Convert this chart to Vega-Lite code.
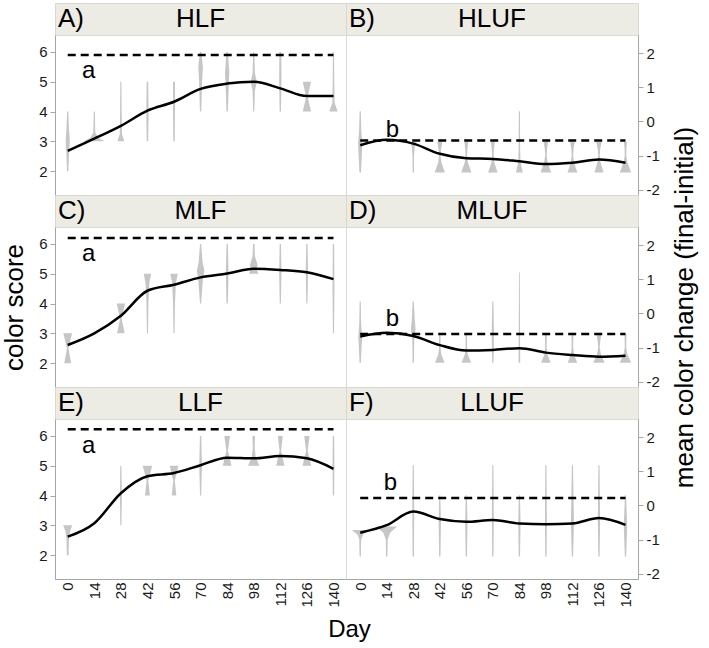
{
"$schema": "https://vega.github.io/schema/vega-lite/v6.json",
"background": "white",
"padding": {"left": 1, "top": 2, "right": 2, "bottom": 2},
"title": {"text": "Day", "orient": "bottom", "anchor": "middle", "fontSize": 24, "fontWeight": "normal", "font": "Liberation Sans", "color": "black", "offset": 10},
"datasets": {
"heads": [
{"p":"A","tag":"A)","name":"HLF"},{"p":"B","tag":"B)","name":"HLUF"},{"p":"C","tag":"C)","name":"MLF"},{"p":"D","tag":"D)","name":"MLUF"},{"p":"E","tag":"E)","name":"LLF"},{"p":"F","tag":"F)","name":"LLUF"}
],
"ref": [
{"p":"A","y":5.9,"from":0,"to":140,"letter":"a","lday":11,"ly":5.35},
{"p":"B","y":-0.56,"from":0,"to":140,"letter":"b","lday":17,"ly":-0.25},
{"p":"C","y":6.2,"from":0,"to":140,"letter":"a","lday":11,"ly":5.67},
{"p":"D","y":-0.6,"from":0,"to":140,"letter":"b","lday":17,"ly":-0.15},
{"p":"E","y":6.23,"from":0,"to":140,"letter":"a","lday":11,"ly":5.66},
{"p":"F","y":0.22,"from":0,"to":140,"letter":"b","lday":16,"ly":0.67}
],
"trend": [
{"p":"A","d":0,"v":2.68},{"p":"A","d":14,"v":3.09},{"p":"A","d":28,"v":3.52},{"p":"A","d":42,"v":4.03},{"p":"A","d":56,"v":4.33},{"p":"A","d":70,"v":4.76},{"p":"A","d":84,"v":4.94},{"p":"A","d":98,"v":5.0},{"p":"A","d":112,"v":4.78},{"p":"A","d":126,"v":4.52},{"p":"A","d":140,"v":4.52},
{"p":"B","d":0,"v":-0.70},{"p":"B","d":14,"v":-0.54},{"p":"B","d":28,"v":-0.65},{"p":"B","d":42,"v":-0.95},{"p":"B","d":56,"v":-1.08},{"p":"B","d":70,"v":-1.10},{"p":"B","d":84,"v":-1.17},{"p":"B","d":98,"v":-1.25},{"p":"B","d":112,"v":-1.21},{"p":"B","d":126,"v":-1.12},{"p":"B","d":140,"v":-1.21},
{"p":"C","d":0,"v":2.61},{"p":"C","d":14,"v":3.0},{"p":"C","d":28,"v":3.59},{"p":"C","d":42,"v":4.43},{"p":"C","d":56,"v":4.63},{"p":"C","d":70,"v":4.88},{"p":"C","d":84,"v":5.01},{"p":"C","d":98,"v":5.17},{"p":"C","d":112,"v":5.13},{"p":"C","d":126,"v":5.05},{"p":"C","d":140,"v":4.82},
{"p":"D","d":0,"v":-0.68},{"p":"D","d":14,"v":-0.57},{"p":"D","d":28,"v":-0.66},{"p":"D","d":42,"v":-0.93},{"p":"D","d":56,"v":-1.09},{"p":"D","d":70,"v":-1.07},{"p":"D","d":84,"v":-1.02},{"p":"D","d":98,"v":-1.15},{"p":"D","d":112,"v":-1.22},{"p":"D","d":126,"v":-1.27},{"p":"D","d":140,"v":-1.24},
{"p":"E","d":0,"v":2.62},{"p":"E","d":14,"v":3.07},{"p":"E","d":28,"v":4.08},{"p":"E","d":42,"v":4.65},{"p":"E","d":56,"v":4.76},{"p":"E","d":70,"v":5.02},{"p":"E","d":84,"v":5.27},{"p":"E","d":98,"v":5.25},{"p":"E","d":112,"v":5.33},{"p":"E","d":126,"v":5.25},{"p":"E","d":140,"v":4.9},
{"p":"F","d":0,"v":-0.80},{"p":"F","d":14,"v":-0.58},{"p":"F","d":28,"v":-0.18},{"p":"F","d":42,"v":-0.40},{"p":"F","d":56,"v":-0.48},{"p":"F","d":70,"v":-0.43},{"p":"F","d":84,"v":-0.53},{"p":"F","d":98,"v":-0.55},{"p":"F","d":112,"v":-0.53},{"p":"F","d":126,"v":-0.37},{"p":"F","d":140,"v":-0.57}
],
"viol": [
{"p":"A","d":0,"y":2,"w":0.35},{"p":"A","d":0,"y":2.6,"w":0.7},{"p":"A","d":0,"y":3,"w":1.1},{"p":"A","d":0,"y":3.4,"w":0.7},{"p":"A","d":0,"y":4,"w":0.3},
{"p":"A","d":14,"y":3,"w":5.5},{"p":"A","d":14,"y":3.12,"w":2},{"p":"A","d":14,"y":3.3,"w":0.5},{"p":"A","d":14,"y":4,"w":0.3},
{"p":"A","d":28,"y":3,"w":1.8},{"p":"A","d":28,"y":3.25,"w":0.6},{"p":"A","d":28,"y":4,"w":0.4},{"p":"A","d":28,"y":5,"w":0.3},
{"p":"A","d":42,"y":3,"w":0.4},{"p":"A","d":42,"y":4,"w":0.6},{"p":"A","d":42,"y":5,"w":0.4},
{"p":"A","d":56,"y":3,"w":0.4},{"p":"A","d":56,"y":4,"w":0.5},{"p":"A","d":56,"y":5,"w":0.5},
{"p":"A","d":70,"y":4,"w":0.35},{"p":"A","d":70,"y":5,"w":0.8},{"p":"A","d":70,"y":5.5,"w":1.2},{"p":"A","d":70,"y":6,"w":0.4},
{"p":"A","d":84,"y":4,"w":0.35},{"p":"A","d":84,"y":5,"w":0.9},{"p":"A","d":84,"y":5.3,"w":1.1},{"p":"A","d":84,"y":6,"w":0.4},
{"p":"A","d":98,"y":4,"w":0.3},{"p":"A","d":98,"y":4.7,"w":0.6},{"p":"A","d":98,"y":5,"w":1.6},{"p":"A","d":98,"y":5.3,"w":0.6},{"p":"A","d":98,"y":6,"w":0.3},
{"p":"A","d":112,"y":4,"w":0.35},{"p":"A","d":112,"y":5,"w":0.6},{"p":"A","d":112,"y":6,"w":0.5},
{"p":"A","d":126,"y":4,"w":2.2},{"p":"A","d":126,"y":4.5,"w":0.4},{"p":"A","d":126,"y":5,"w":2.2},
{"p":"A","d":140,"y":4,"w":2.2},{"p":"A","d":140,"y":4.3,"w":0.6},{"p":"A","d":140,"y":5,"w":0.4},{"p":"A","d":140,"y":6,"w":0.3},

{"p":"B","d":0,"y":-1.5,"w":0.4},{"p":"B","d":0,"y":-0.8,"w":1.0},{"p":"B","d":0,"y":-0.6,"w":1.1},{"p":"B","d":0,"y":-0.3,"w":0.6},{"p":"B","d":0,"y":0.3,"w":0.3},
{"p":"B","d":28,"y":-1.5,"w":0.35},{"p":"B","d":28,"y":-1.0,"w":0.4},{"p":"B","d":28,"y":-0.75,"w":0.8},{"p":"B","d":28,"y":-0.6,"w":1.5},
{"p":"B","d":42,"y":-1.5,"w":2.7},{"p":"B","d":42,"y":-1.2,"w":0.8},{"p":"B","d":42,"y":-1.0,"w":0.4},{"p":"B","d":42,"y":-0.8,"w":0.7},{"p":"B","d":42,"y":-0.6,"w":1.3},
{"p":"B","d":56,"y":-1.5,"w":2.7},{"p":"B","d":56,"y":-1.2,"w":0.8},{"p":"B","d":56,"y":-1.0,"w":0.4},{"p":"B","d":56,"y":-0.8,"w":0.6},{"p":"B","d":56,"y":-0.6,"w":1.0},
{"p":"B","d":70,"y":-1.5,"w":2.5},{"p":"B","d":70,"y":-1.2,"w":0.7},{"p":"B","d":70,"y":-1.0,"w":0.4},{"p":"B","d":70,"y":-0.8,"w":0.6},{"p":"B","d":70,"y":-0.6,"w":1.0},
{"p":"B","d":84,"y":-1.5,"w":1.8},{"p":"B","d":84,"y":-1.2,"w":0.6},{"p":"B","d":84,"y":-0.8,"w":0.4},{"p":"B","d":84,"y":0.3,"w":0.3},
{"p":"B","d":98,"y":-1.5,"w":2.8},{"p":"B","d":98,"y":-1.2,"w":0.9},{"p":"B","d":98,"y":-1.0,"w":0.4},{"p":"B","d":98,"y":-0.8,"w":0.6},{"p":"B","d":98,"y":-0.6,"w":1.2},
{"p":"B","d":112,"y":-1.5,"w":2.6},{"p":"B","d":112,"y":-1.2,"w":0.8},{"p":"B","d":112,"y":-1.0,"w":0.4},{"p":"B","d":112,"y":-0.8,"w":0.6},{"p":"B","d":112,"y":-0.6,"w":1.2},
{"p":"B","d":126,"y":-1.5,"w":2.4},{"p":"B","d":126,"y":-1.2,"w":0.8},{"p":"B","d":126,"y":-1.0,"w":0.4},{"p":"B","d":126,"y":-0.8,"w":0.7},{"p":"B","d":126,"y":-0.6,"w":1.4},
{"p":"B","d":140,"y":-1.5,"w":3.0},{"p":"B","d":140,"y":-1.2,"w":1.0},{"p":"B","d":140,"y":-1.0,"w":0.4},{"p":"B","d":140,"y":-0.8,"w":0.5},{"p":"B","d":140,"y":-0.6,"w":0.8},

{"p":"C","d":0,"y":2,"w":1.8},{"p":"C","d":0,"y":2.5,"w":0.4},{"p":"C","d":0,"y":3,"w":2.3},
{"p":"C","d":28,"y":3,"w":2.0},{"p":"C","d":28,"y":3.5,"w":0.4},{"p":"C","d":28,"y":4,"w":2.2},
{"p":"C","d":42,"y":3,"w":0.3},{"p":"C","d":42,"y":4,"w":0.5},{"p":"C","d":42,"y":4.7,"w":1.0},{"p":"C","d":42,"y":5,"w":2.0},
{"p":"C","d":56,"y":3,"w":0.3},{"p":"C","d":56,"y":4,"w":0.5},{"p":"C","d":56,"y":4.7,"w":1.0},{"p":"C","d":56,"y":5,"w":2.0},
{"p":"C","d":70,"y":4,"w":0.3},{"p":"C","d":70,"y":4.8,"w":1.2},{"p":"C","d":70,"y":5.1,"w":2.0},{"p":"C","d":70,"y":5.4,"w":1.0},{"p":"C","d":70,"y":6,"w":0.3},
{"p":"C","d":84,"y":4,"w":0.35},{"p":"C","d":84,"y":5,"w":0.7},{"p":"C","d":84,"y":6,"w":0.35},
{"p":"C","d":98,"y":5,"w":2.5},{"p":"C","d":98,"y":5.15,"w":1.5},{"p":"C","d":98,"y":5.3,"w":2.0},{"p":"C","d":98,"y":5.6,"w":0.6},{"p":"C","d":98,"y":6,"w":0.4},
{"p":"C","d":112,"y":4,"w":0.3},{"p":"C","d":112,"y":5,"w":0.6},{"p":"C","d":112,"y":6,"w":0.35},
{"p":"C","d":126,"y":4,"w":0.3},{"p":"C","d":126,"y":5,"w":0.6},{"p":"C","d":126,"y":6,"w":0.35},
{"p":"C","d":140,"y":3,"w":0.3},{"p":"C","d":140,"y":4.5,"w":0.5},{"p":"C","d":140,"y":6,"w":0.35},

{"p":"D","d":0,"y":-1.45,"w":0.35},{"p":"D","d":0,"y":-0.9,"w":0.8},{"p":"D","d":0,"y":-0.7,"w":1.0},{"p":"D","d":0,"y":-0.3,"w":0.5},{"p":"D","d":0,"y":0.35,"w":0.3},
{"p":"D","d":28,"y":-1.45,"w":0.35},{"p":"D","d":28,"y":-0.8,"w":0.5},{"p":"D","d":28,"y":-0.45,"w":1.2},{"p":"D","d":28,"y":-0.2,"w":0.8},{"p":"D","d":28,"y":0.35,"w":0.3},
{"p":"D","d":42,"y":-1.45,"w":2.5},{"p":"D","d":42,"y":-1.2,"w":0.8},{"p":"D","d":42,"y":-1.0,"w":0.4},{"p":"D","d":42,"y":-0.6,"w":0.4},
{"p":"D","d":56,"y":-1.45,"w":2.5},{"p":"D","d":56,"y":-1.2,"w":0.8},{"p":"D","d":56,"y":-1.0,"w":0.4},{"p":"D","d":56,"y":-0.6,"w":0.4},
{"p":"D","d":70,"y":-1.45,"w":0.35},{"p":"D","d":70,"y":-0.6,"w":0.6},{"p":"D","d":70,"y":0.35,"w":0.3},
{"p":"D","d":84,"y":-1.45,"w":0.45},{"p":"D","d":84,"y":-0.6,"w":0.35},{"p":"D","d":84,"y":1.2,"w":0.2},
{"p":"D","d":98,"y":-1.45,"w":2.5},{"p":"D","d":98,"y":-1.2,"w":0.8},{"p":"D","d":98,"y":-1.0,"w":0.4},{"p":"D","d":98,"y":-0.6,"w":0.5},
{"p":"D","d":112,"y":-1.45,"w":2.5},{"p":"D","d":112,"y":-1.2,"w":0.8},{"p":"D","d":112,"y":-1.0,"w":0.4},{"p":"D","d":112,"y":-0.6,"w":0.5},
{"p":"D","d":126,"y":-1.45,"w":3.0},{"p":"D","d":126,"y":-1.2,"w":1.0},{"p":"D","d":126,"y":-1.0,"w":0.4},{"p":"D","d":126,"y":-0.8,"w":0.7},{"p":"D","d":126,"y":-0.6,"w":1.3},
{"p":"D","d":140,"y":-1.45,"w":3.0},{"p":"D","d":140,"y":-1.2,"w":1.0},{"p":"D","d":140,"y":-1.0,"w":0.4},{"p":"D","d":140,"y":-0.6,"w":0.5},

{"p":"E","d":0,"y":2,"w":0.5},{"p":"E","d":0,"y":2.5,"w":0.6},{"p":"E","d":0,"y":2.8,"w":1.2},{"p":"E","d":0,"y":3,"w":2.4},
{"p":"E","d":28,"y":3,"w":0.3},{"p":"E","d":28,"y":4,"w":0.5},{"p":"E","d":28,"y":5,"w":0.3},
{"p":"E","d":42,"y":4,"w":1.3},{"p":"E","d":42,"y":4.5,"w":0.4},{"p":"E","d":42,"y":5,"w":2.5},
{"p":"E","d":56,"y":4,"w":1.2},{"p":"E","d":56,"y":4.5,"w":0.4},{"p":"E","d":56,"y":5,"w":2.3},
{"p":"E","d":70,"y":4,"w":0.3},{"p":"E","d":70,"y":5,"w":0.7},{"p":"E","d":70,"y":6,"w":0.35},
{"p":"E","d":84,"y":5,"w":2.3},{"p":"E","d":84,"y":5.5,"w":0.4},{"p":"E","d":84,"y":6,"w":1.5},
{"p":"E","d":98,"y":5,"w":3.0},{"p":"E","d":98,"y":5.3,"w":1.0},{"p":"E","d":98,"y":5.6,"w":0.5},{"p":"E","d":98,"y":6,"w":0.7},
{"p":"E","d":112,"y":5,"w":2.2},{"p":"E","d":112,"y":5.5,"w":0.4},{"p":"E","d":112,"y":6,"w":1.3},
{"p":"E","d":126,"y":5,"w":2.3},{"p":"E","d":126,"y":5.5,"w":0.4},{"p":"E","d":126,"y":6,"w":1.4},
{"p":"E","d":140,"y":4,"w":0.35},{"p":"E","d":140,"y":5,"w":0.5},{"p":"E","d":140,"y":6,"w":0.35},

{"p":"F","d":0,"y":-1.5,"w":0.35},{"p":"F","d":0,"y":-1.0,"w":0.5},{"p":"F","d":0,"y":-0.85,"w":1.5},{"p":"F","d":0,"y":-0.72,"w":4.4},
{"p":"F","d":14,"y":-1.5,"w":0.35},{"p":"F","d":14,"y":-1.0,"w":0.5},{"p":"F","d":14,"y":-0.8,"w":1.8},{"p":"F","d":14,"y":-0.62,"w":5.5},
{"p":"F","d":28,"y":-1.5,"w":0.35},{"p":"F","d":28,"y":-0.2,"w":0.5},{"p":"F","d":28,"y":1.18,"w":0.3},
{"p":"F","d":42,"y":-1.5,"w":0.35},{"p":"F","d":42,"y":-0.5,"w":0.6},{"p":"F","d":42,"y":0.3,"w":0.3},
{"p":"F","d":56,"y":-1.5,"w":0.35},{"p":"F","d":56,"y":-0.5,"w":0.6},{"p":"F","d":56,"y":0.3,"w":0.3},
{"p":"F","d":70,"y":-1.5,"w":0.35},{"p":"F","d":70,"y":-0.3,"w":0.5},{"p":"F","d":70,"y":1.18,"w":0.3},
{"p":"F","d":84,"y":-1.5,"w":0.35},{"p":"F","d":84,"y":-0.5,"w":0.6},{"p":"F","d":84,"y":0.3,"w":0.3},
{"p":"F","d":98,"y":-1.5,"w":0.35},{"p":"F","d":98,"y":-0.4,"w":0.5},{"p":"F","d":98,"y":1.18,"w":0.3},
{"p":"F","d":112,"y":-1.5,"w":0.35},{"p":"F","d":112,"y":-0.5,"w":0.8},{"p":"F","d":112,"y":1.18,"w":0.3},
{"p":"F","d":126,"y":-1.5,"w":0.35},{"p":"F","d":126,"y":-0.4,"w":0.6},{"p":"F","d":126,"y":1.18,"w":0.3},
{"p":"F","d":140,"y":-1.5,"w":0.35},{"p":"F","d":140,"y":-0.6,"w":0.9},{"p":"F","d":140,"y":0.3,"w":0.3}
]
},
"columns": 2,
"align": "each",
"bounds": "flush",
"spacing": {"row": 0, "column": 0},
"concat": [
{"width": 291, "height": 32, "view": {"fill": "#ecebe4", "stroke": "#d8d8d0"}, "data": {"name": "heads"}, "transform": [{"filter": "datum.p == 'A'"}],
 "layer": [
  {"mark": {"type": "text", "align": "left", "baseline": "middle", "fontSize": 26, "dx": 3}, "encoding": {"x": {"datum": 0, "type": "quantitative", "scale": {"domain": [0, 1]}, "axis": null}, "text": {"field": "tag"}}},
  {"mark": {"type": "text", "align": "center", "baseline": "middle", "fontSize": 26}, "encoding": {"text": {"field": "name"}}}
 ]},
{"width": 292, "height": 32, "view": {"fill": "#ecebe4", "stroke": "#d8d8d0"}, "data": {"name": "heads"}, "transform": [{"filter": "datum.p == 'B'"}],
 "layer": [
  {"mark": {"type": "text", "align": "left", "baseline": "middle", "fontSize": 26, "dx": 3}, "encoding": {"x": {"datum": 0, "type": "quantitative", "scale": {"domain": [0, 1]}, "axis": null}, "text": {"field": "tag"}}},
  {"mark": {"type": "text", "align": "center", "baseline": "middle", "fontSize": 26}, "encoding": {"text": {"field": "name"}}}
 ]},
{"width": 291, "height": 160,
 "layer": [
  {"data": {"name": "viol"}, "transform": [{"filter": "datum.p == 'A'"}, {"calculate": "datum.d - datum.w", "as": "lo"}, {"calculate": "datum.d + datum.w", "as": "hi"}],
   "mark": {"type": "area", "orient": "horizontal", "color": "#c6c6c6"},
   "encoding": {"y": {"field": "y", "type": "quantitative", "title": "", "scale": {"domain": [1.2, 6.57], "nice": false, "zero": false}, "axis": {"orient": "left", "values": [2, 3, 4, 5, 6], "tickCount": 30, "labelExpr": "'' + datum.value"}},
    "x": {"field": "lo", "type": "quantitative", "title": "", "scale": {"domain": [-6.7, 146.6], "nice": false, "zero": false}, "axis": null},
    "x2": {"field": "hi"}, "detail": {"field": "d", "type": "nominal"}}},
  {"data": {"name": "trend"}, "transform": [{"filter": "datum.p == 'A'"}], "mark": {"type": "line", "color": "black", "strokeWidth": 2.5, "interpolate": "monotone"},
   "encoding": {"x": {"field": "d", "type": "quantitative", "title": ""}, "y": {"field": "v", "type": "quantitative", "title": ""}}},
  {"data": {"name": "ref"}, "transform": [{"filter": "datum.p == 'A'"}], "mark": {"type": "rule", "color": "black", "strokeWidth": 2.5, "strokeDash": [8, 5]},
   "encoding": {"x": {"field": "from", "type": "quantitative", "title": ""}, "x2": {"field": "to"}, "y": {"field": "y", "type": "quantitative", "title": ""}}},
  {"data": {"name": "ref"}, "transform": [{"filter": "datum.p == 'A'"}], "mark": {"type": "text", "fontSize": 24, "align": "center", "baseline": "middle"},
   "encoding": {"x": {"field": "lday", "type": "quantitative", "title": ""}, "y": {"field": "ly", "type": "quantitative", "title": ""}, "text": {"field": "letter"}}}
 ]},
{"width": 292, "height": 160,
 "layer": [
  {"data": {"name": "viol"}, "transform": [{"filter": "datum.p == 'B'"}, {"calculate": "datum.d - datum.w", "as": "lo"}, {"calculate": "datum.d + datum.w", "as": "hi"}],
   "mark": {"type": "area", "orient": "horizontal", "color": "#c6c6c6"},
   "encoding": {"y": {"field": "y", "type": "quantitative", "title": "", "scale": {"domain": [-2.16, 2.54], "nice": false, "zero": false}, "axis": {"orient": "right", "values": [-2, -1, 0, 1, 2], "tickCount": 30, "labelExpr": "'' + datum.value"}},
    "x": {"field": "lo", "type": "quantitative", "title": "", "scale": {"domain": [-7.5, 146.6], "nice": false, "zero": false}, "axis": null},
    "x2": {"field": "hi"}, "detail": {"field": "d", "type": "nominal"}}},
  {"data": {"name": "trend"}, "transform": [{"filter": "datum.p == 'B'"}], "mark": {"type": "line", "color": "black", "strokeWidth": 2.5, "interpolate": "monotone"},
   "encoding": {"x": {"field": "d", "type": "quantitative", "title": ""}, "y": {"field": "v", "type": "quantitative", "title": ""}}},
  {"data": {"name": "ref"}, "transform": [{"filter": "datum.p == 'B'"}], "mark": {"type": "rule", "color": "black", "strokeWidth": 2.5, "strokeDash": [8, 5]},
   "encoding": {"x": {"field": "from", "type": "quantitative", "title": ""}, "x2": {"field": "to"}, "y": {"field": "y", "type": "quantitative", "title": ""}}},
  {"data": {"name": "ref"}, "transform": [{"filter": "datum.p == 'B'"}], "mark": {"type": "text", "fontSize": 24, "align": "center", "baseline": "middle"},
   "encoding": {"x": {"field": "lday", "type": "quantitative", "title": ""}, "y": {"field": "ly", "type": "quantitative", "title": ""}, "text": {"field": "letter"}}}
 ]},
{"width": 291, "height": 32, "view": {"fill": "#ecebe4", "stroke": "#d8d8d0"}, "data": {"name": "heads"}, "transform": [{"filter": "datum.p == 'C'"}],
 "layer": [
  {"mark": {"type": "text", "align": "left", "baseline": "middle", "fontSize": 26, "dx": 3}, "encoding": {"x": {"datum": 0, "type": "quantitative", "scale": {"domain": [0, 1]}, "axis": null}, "text": {"field": "tag"}}},
  {"mark": {"type": "text", "align": "center", "baseline": "middle", "fontSize": 26}, "encoding": {"text": {"field": "name"}}}
 ]},
{"width": 292, "height": 32, "view": {"fill": "#ecebe4", "stroke": "#d8d8d0"}, "data": {"name": "heads"}, "transform": [{"filter": "datum.p == 'D'"}],
 "layer": [
  {"mark": {"type": "text", "align": "left", "baseline": "middle", "fontSize": 26, "dx": 3}, "encoding": {"x": {"datum": 0, "type": "quantitative", "scale": {"domain": [0, 1]}, "axis": null}, "text": {"field": "tag"}}},
  {"mark": {"type": "text", "align": "center", "baseline": "middle", "fontSize": 26}, "encoding": {"text": {"field": "name"}}}
 ]},
{"width": 291, "height": 160,
 "layer": [
  {"data": {"name": "viol"}, "transform": [{"filter": "datum.p == 'C'"}, {"calculate": "datum.d - datum.w", "as": "lo"}, {"calculate": "datum.d + datum.w", "as": "hi"}],
   "mark": {"type": "area", "orient": "horizontal", "color": "#c6c6c6"},
   "encoding": {"y": {"field": "y", "type": "quantitative", "title": "color score", "scale": {"domain": [1.2, 6.57], "nice": false, "zero": false}, "axis": {"orient": "left", "values": [2, 3, 4, 5, 6], "tickCount": 30, "labelExpr": "'' + datum.value", "titlePadding": 11}},
    "x": {"field": "lo", "type": "quantitative", "title": "", "scale": {"domain": [-6.7, 146.6], "nice": false, "zero": false}, "axis": null},
    "x2": {"field": "hi"}, "detail": {"field": "d", "type": "nominal"}}},
  {"data": {"name": "trend"}, "transform": [{"filter": "datum.p == 'C'"}], "mark": {"type": "line", "color": "black", "strokeWidth": 2.5, "interpolate": "monotone"},
   "encoding": {"x": {"field": "d", "type": "quantitative", "title": ""}, "y": {"field": "v", "type": "quantitative", "title": "color score"}}},
  {"data": {"name": "ref"}, "transform": [{"filter": "datum.p == 'C'"}], "mark": {"type": "rule", "color": "black", "strokeWidth": 2.5, "strokeDash": [8, 5]},
   "encoding": {"x": {"field": "from", "type": "quantitative", "title": ""}, "x2": {"field": "to"}, "y": {"field": "y", "type": "quantitative", "title": "color score"}}},
  {"data": {"name": "ref"}, "transform": [{"filter": "datum.p == 'C'"}], "mark": {"type": "text", "fontSize": 24, "align": "center", "baseline": "middle"},
   "encoding": {"x": {"field": "lday", "type": "quantitative", "title": ""}, "y": {"field": "ly", "type": "quantitative", "title": "color score"}, "text": {"field": "letter"}}}
 ]},
{"width": 292, "height": 160,
 "layer": [
  {"data": {"name": "viol"}, "transform": [{"filter": "datum.p == 'D'"}, {"calculate": "datum.d - datum.w", "as": "lo"}, {"calculate": "datum.d + datum.w", "as": "hi"}],
   "mark": {"type": "area", "orient": "horizontal", "color": "#c6c6c6"},
   "encoding": {"y": {"field": "y", "type": "quantitative", "title": "mean color change (final-initial)", "scale": {"domain": [-2.16, 2.54], "nice": false, "zero": false}, "axis": {"orient": "right", "values": [-2, -1, 0, 1, 2], "tickCount": 30, "labelExpr": "'' + datum.value", "titleAngle": 270, "titleBaseline": "top", "titlePadding": 12}},
    "x": {"field": "lo", "type": "quantitative", "title": "", "scale": {"domain": [-7.5, 146.6], "nice": false, "zero": false}, "axis": null},
    "x2": {"field": "hi"}, "detail": {"field": "d", "type": "nominal"}}},
  {"data": {"name": "trend"}, "transform": [{"filter": "datum.p == 'D'"}], "mark": {"type": "line", "color": "black", "strokeWidth": 2.5, "interpolate": "monotone"},
   "encoding": {"x": {"field": "d", "type": "quantitative", "title": ""}, "y": {"field": "v", "type": "quantitative", "title": "mean color change (final-initial)"}}},
  {"data": {"name": "ref"}, "transform": [{"filter": "datum.p == 'D'"}], "mark": {"type": "rule", "color": "black", "strokeWidth": 2.5, "strokeDash": [8, 5]},
   "encoding": {"x": {"field": "from", "type": "quantitative", "title": ""}, "x2": {"field": "to"}, "y": {"field": "y", "type": "quantitative", "title": "mean color change (final-initial)"}}},
  {"data": {"name": "ref"}, "transform": [{"filter": "datum.p == 'D'"}], "mark": {"type": "text", "fontSize": 24, "align": "center", "baseline": "middle"},
   "encoding": {"x": {"field": "lday", "type": "quantitative", "title": ""}, "y": {"field": "ly", "type": "quantitative", "title": "mean color change (final-initial)"}, "text": {"field": "letter"}}}
 ]},
{"width": 291, "height": 32, "view": {"fill": "#ecebe4", "stroke": "#d8d8d0"}, "data": {"name": "heads"}, "transform": [{"filter": "datum.p == 'E'"}],
 "layer": [
  {"mark": {"type": "text", "align": "left", "baseline": "middle", "fontSize": 26, "dx": 3}, "encoding": {"x": {"datum": 0, "type": "quantitative", "scale": {"domain": [0, 1]}, "axis": null}, "text": {"field": "tag"}}},
  {"mark": {"type": "text", "align": "center", "baseline": "middle", "fontSize": 26}, "encoding": {"text": {"field": "name"}}}
 ]},
{"width": 292, "height": 32, "view": {"fill": "#ecebe4", "stroke": "#d8d8d0"}, "data": {"name": "heads"}, "transform": [{"filter": "datum.p == 'F'"}],
 "layer": [
  {"mark": {"type": "text", "align": "left", "baseline": "middle", "fontSize": 26, "dx": 3}, "encoding": {"x": {"datum": 0, "type": "quantitative", "scale": {"domain": [0, 1]}, "axis": null}, "text": {"field": "tag"}}},
  {"mark": {"type": "text", "align": "center", "baseline": "middle", "fontSize": 26}, "encoding": {"text": {"field": "name"}}}
 ]},
{"width": 291, "height": 160,
 "layer": [
  {"data": {"name": "viol"}, "transform": [{"filter": "datum.p == 'E'"}, {"calculate": "datum.d - datum.w", "as": "lo"}, {"calculate": "datum.d + datum.w", "as": "hi"}],
   "mark": {"type": "area", "orient": "horizontal", "color": "#c6c6c6"},
   "encoding": {"y": {"field": "y", "type": "quantitative", "title": "", "scale": {"domain": [1.2, 6.57], "nice": false, "zero": false}, "axis": {"orient": "left", "values": [2, 3, 4, 5, 6], "tickCount": 30, "labelExpr": "'' + datum.value"}},
    "x": {"field": "lo", "type": "quantitative", "title": "", "scale": {"domain": [-6.7, 146.6], "nice": false, "zero": false}, "axis": {"values": [0, 14, 28, 42, 56, 70, 84, 98, 112, 126, 140], "tickCount": 30, "labelExpr": "'' + datum.value", "labelAngle": 270, "ticks": false, "tickSize": 0, "labelPadding": 3, "labelFontSize": 15}},
    "x2": {"field": "hi"}, "detail": {"field": "d", "type": "nominal"}}},
  {"data": {"name": "trend"}, "transform": [{"filter": "datum.p == 'E'"}], "mark": {"type": "line", "color": "black", "strokeWidth": 2.5, "interpolate": "monotone"},
   "encoding": {"x": {"field": "d", "type": "quantitative", "title": ""}, "y": {"field": "v", "type": "quantitative", "title": ""}}},
  {"data": {"name": "ref"}, "transform": [{"filter": "datum.p == 'E'"}], "mark": {"type": "rule", "color": "black", "strokeWidth": 2.5, "strokeDash": [8, 5]},
   "encoding": {"x": {"field": "from", "type": "quantitative", "title": ""}, "x2": {"field": "to"}, "y": {"field": "y", "type": "quantitative", "title": ""}}},
  {"data": {"name": "ref"}, "transform": [{"filter": "datum.p == 'E'"}], "mark": {"type": "text", "fontSize": 24, "align": "center", "baseline": "middle"},
   "encoding": {"x": {"field": "lday", "type": "quantitative", "title": ""}, "y": {"field": "ly", "type": "quantitative", "title": ""}, "text": {"field": "letter"}}}
 ]},
{"width": 292, "height": 160,
 "layer": [
  {"data": {"name": "viol"}, "transform": [{"filter": "datum.p == 'F'"}, {"calculate": "datum.d - datum.w", "as": "lo"}, {"calculate": "datum.d + datum.w", "as": "hi"}],
   "mark": {"type": "area", "orient": "horizontal", "color": "#c6c6c6"},
   "encoding": {"y": {"field": "y", "type": "quantitative", "title": "", "scale": {"domain": [-2.16, 2.54], "nice": false, "zero": false}, "axis": {"orient": "right", "values": [-2, -1, 0, 1, 2], "tickCount": 30, "labelExpr": "'' + datum.value"}},
    "x": {"field": "lo", "type": "quantitative", "title": "", "scale": {"domain": [-7.5, 146.6], "nice": false, "zero": false}, "axis": {"values": [0, 14, 28, 42, 56, 70, 84, 98, 112, 126, 140], "tickCount": 30, "labelExpr": "'' + datum.value", "labelAngle": 270, "ticks": false, "tickSize": 0, "labelPadding": 3, "labelFontSize": 15}},
    "x2": {"field": "hi"}, "detail": {"field": "d", "type": "nominal"}}},
  {"data": {"name": "trend"}, "transform": [{"filter": "datum.p == 'F'"}], "mark": {"type": "line", "color": "black", "strokeWidth": 2.5, "interpolate": "monotone"},
   "encoding": {"x": {"field": "d", "type": "quantitative", "title": ""}, "y": {"field": "v", "type": "quantitative", "title": ""}}},
  {"data": {"name": "ref"}, "transform": [{"filter": "datum.p == 'F'"}], "mark": {"type": "rule", "color": "black", "strokeWidth": 2.5, "strokeDash": [8, 5]},
   "encoding": {"x": {"field": "from", "type": "quantitative", "title": ""}, "x2": {"field": "to"}, "y": {"field": "y", "type": "quantitative", "title": ""}}},
  {"data": {"name": "ref"}, "transform": [{"filter": "datum.p == 'F'"}], "mark": {"type": "text", "fontSize": 24, "align": "center", "baseline": "middle"},
   "encoding": {"x": {"field": "lday", "type": "quantitative", "title": ""}, "y": {"field": "ly", "type": "quantitative", "title": ""}, "text": {"field": "letter"}}}
 ]}
],
"config": {
 "font": "Liberation Sans",
 "view": {"stroke": "#d9d9d9"},
 "text": {"font": "Liberation Sans", "color": "black"},
 "axis": {"labelFont": "Liberation Sans", "labelFontSize": 15, "labelColor": "#1a1a1a", "labelOverlap": false, "labelFlush": false, "titleFont": "Liberation Sans", "titleFontSize": 26, "titleFontWeight": "normal", "titleColor": "black", "domainColor": "#a6a6a6", "tickColor": "#a6a6a6", "tickSize": 5, "labelPadding": 3, "grid": false}
}
}
